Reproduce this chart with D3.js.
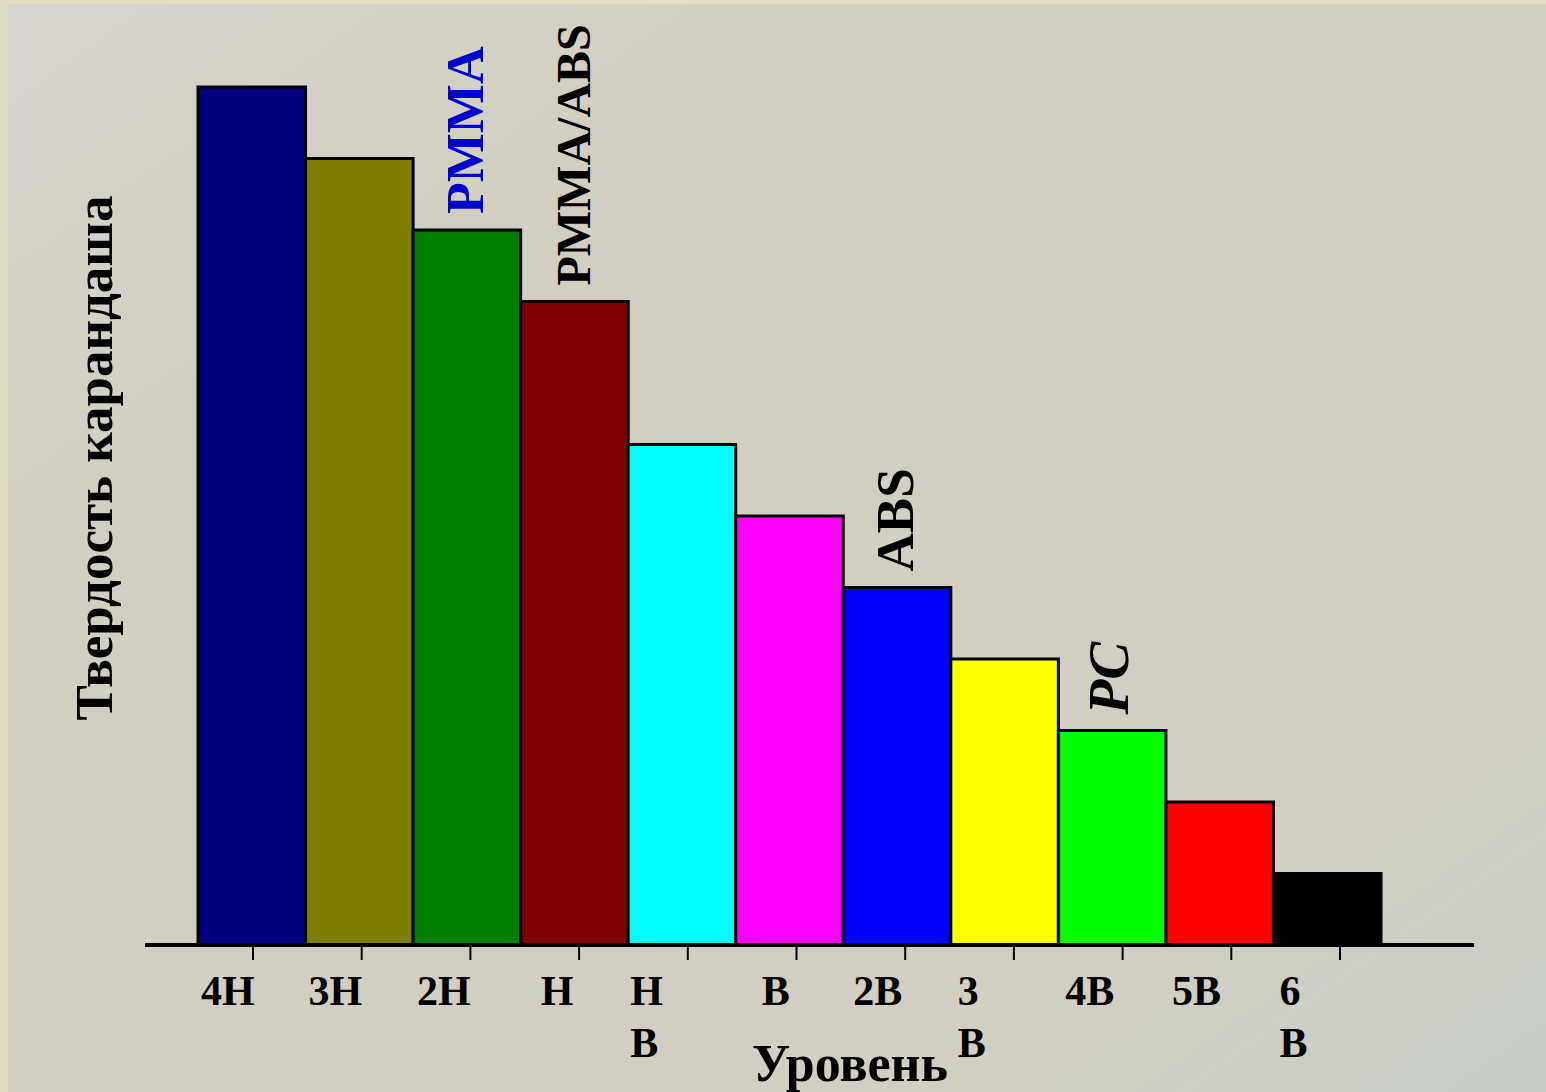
<!DOCTYPE html>
<html>
<head>
<meta charset="utf-8">
<script src="https://cdn.jsdelivr.net/npm/d3@7/dist/d3.min.js"></script>
<style>
  html, body { margin: 0; padding: 0; background: #d2cfc2; }
  svg { display: block; }
  text { font-family: "Liberation Serif", "Times New Roman", serif; font-weight: bold; }
</style>
</head>
<body>
<svg id="chart" width="1546" height="1092"></svg>
<script>
// Pencil grades, hardest to softest
const grades = ["4H", "3H", "2H", "H", "HB", "B", "2B", "3B", "4B", "5B", "6B"];
// Hardness rank of each grade
const hardness = [12, 11, 10, 9, 7, 6, 5, 4, 3, 2, 1];
// Fill colour of each grade's bar
const barColors = ["#000080", "#808000", "#008000", "#800000", "#00ffff", "#ff00ff",
                   "#0000ff", "#ffff00", "#00ff00", "#ff0000", "#000000"];
// Tick labels (line breaks as drawn under the axis)
const tickLabels = ["4H", "3H", "2H", "H", "H\nB", "B", "2B", "3\nB", "4B", "5B", "6\nB"];
// Materials marked above the grade they reach
const materialGrades = ["2H", "H", "2B", "4B"];
const materialNames = ["PMMA", "PMMA/ABS", "ABS", "PC"];
const materialColors = ["#0000cc", "#000000", "#000000", "#000000"];
const materialItalic = [false, false, false, true];

// Styling of the material labels
const materialSize = [52, 48, 53, 57];
// Horizontal nudge of each tick label from its bar's left edge
const labelDx = [3, 3, 4, 20, 2, 26, 10, 7, 7, 6, 6];

const svg = d3.select("#chart");
const W = 1546, H = 1092;

// background
const defs = svg.append("defs");
const bg = defs.append("linearGradient").attr("id", "bg")
  .attr("x1", "0").attr("y1", "0").attr("x2", "1").attr("y2", "1");
bg.append("stop").attr("offset", "0").attr("stop-color", "#d6d4cc");
bg.append("stop").attr("offset", "0.25").attr("stop-color", "#d2cfc2");
bg.append("stop").attr("offset", "0.8").attr("stop-color", "#d2cfc2");
bg.append("stop").attr("offset", "1").attr("stop-color", "#c6cdc7");
svg.append("rect").attr("width", W).attr("height", H).attr("fill", "url(#bg)");
svg.append("rect").attr("width", W).attr("height", 4).attr("fill", "#e2dcc2");
svg.append("rect").attr("width", 8).attr("height", H).attr("fill", "#dfdac2");

const x = d3.scaleBand().domain(grades).range([198, 1381]).padding(0);
const y = d3.scaleLinear().domain([0, 12]).range([945, 87]);
const tickX = d3.scalePoint().domain(grades).range([253, 1340]);

// bars
svg.append("g").selectAll("rect")
  .data(grades)
  .join("rect")
  .attr("x", d => x(d))
  .attr("y", (d, i) => y(hardness[i]))
  .attr("width", x.bandwidth())
  .attr("height", (d, i) => y(0) - y(hardness[i]))
  .attr("fill", (d, i) => barColors[i])
  .attr("stroke", "#000")
  .attr("stroke-width", 3);

// x axis line
const axisY = y(0);
svg.append("line")
  .attr("x1", 145).attr("x2", 1474)
  .attr("y1", axisY).attr("y2", axisY)
  .attr("stroke", "#000").attr("stroke-width", 4);

// tick marks
svg.append("g").selectAll("line")
  .data(grades)
  .join("line")
  .attr("x1", d => tickX(d)).attr("x2", d => tickX(d))
  .attr("y1", axisY).attr("y2", axisY + 15)
  .attr("stroke", "#000").attr("stroke-width", 2);

// tick labels
const tl = svg.append("g").selectAll("text")
  .data(grades)
  .join("text")
  .attr("x", (d, i) => x(d) + labelDx[i])
  .attr("y", 1005)
  .attr("font-size", 42)
  .attr("fill", "#000");
tl.each(function(d, i) {
  const lines = tickLabels[i].split("\n");
  const t = d3.select(this);
  lines.forEach((ln, k) => {
    t.append("tspan")
      .attr("x", x(d) + labelDx[i])
      .attr("dy", k === 0 ? 0 : 52)
      .text(ln);
  });
});

// axis titles
svg.append("text")
  .attr("x", 850).attr("y", 1081)
  .attr("text-anchor", "middle")
  .attr("font-size", 52)
  .attr("fill", "#000")
  .text("Уровень");

svg.append("text")
  .attr("transform", "translate(112,458) rotate(-90)")
  .attr("text-anchor", "middle")
  .attr("font-size", 53)
  .attr("fill", "#000")
  .text("Твердость карандаша");

// material labels above bars
svg.append("g").selectAll("text")
  .data(materialGrades)
  .join("text")
  .attr("transform", (d, i) => {
    const gi = grades.indexOf(d);
    const bx = x(d) + x.bandwidth() / 2 + 16;
    const by = y(hardness[gi]) - 16;
    return `translate(${bx},${by}) rotate(-90)`;
  })
  .attr("font-size", (d, i) => materialSize[i])
  .attr("font-style", (d, i) => materialItalic[i] ? "italic" : "normal")
  .attr("fill", (d, i) => materialColors[i])
  .text((d, i) => materialNames[i]);
</script>
</body>
</html>
